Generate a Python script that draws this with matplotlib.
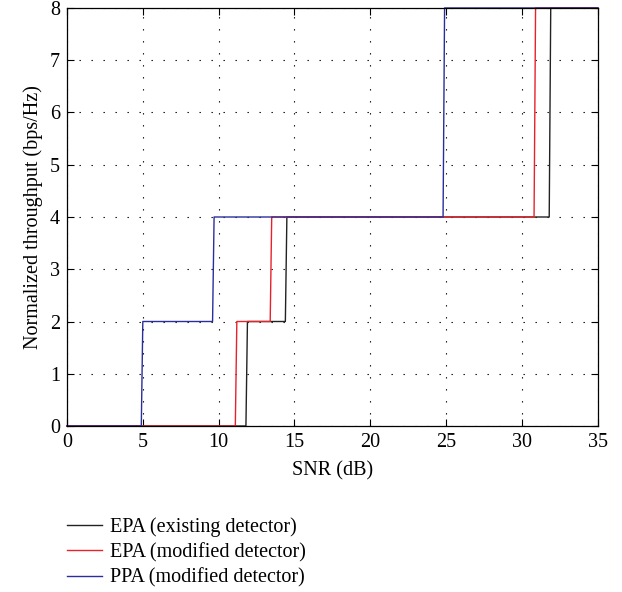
import numpy as np
import matplotlib.pyplot as plt

plt.rcParams['font.family'] = ['Liberation Serif', 'DejaVu Serif']

# corner points of each step curve (SNR in dB, throughput in bps/Hz)
snr_epa_exist = [0, 11.8, 11.9, 14.4, 14.5, 31.8, 31.9, 35]
thr_epa_exist = [0, 0, 2, 2, 4, 4, 8, 8]
snr_epa_mod = [0, 11.1, 11.2, 13.4, 13.5, 30.8, 30.9, 35]
thr_epa_mod = [0, 0, 2, 2, 4, 4, 8, 8]
snr_ppa_mod = [0, 4.9, 5.0, 9.6, 9.7, 24.8, 24.9, 35]
thr_ppa_mod = [0, 0, 2, 2, 4, 4, 8, 8]

labels = ['EPA (existing detector)', 'EPA (modified detector)', 'PPA (modified detector)']
colors = ['#222222', '#e8212b', '#2a2e9c']

fig = plt.figure(figsize=(6.22, 5.92), dpi=100)
ax = fig.add_axes([0.1077, 0.2804, 0.8533, 0.7061])

ax.plot(snr_epa_exist, thr_epa_exist, color=colors[0], lw=1.0, label=labels[0], clip_on=False)
ax.plot(snr_epa_mod, thr_epa_mod, color=colors[1], lw=1.0, label=labels[1], clip_on=False)
ax.plot(snr_ppa_mod, thr_ppa_mod, color=colors[2], lw=1.0, label=labels[2], clip_on=False)

ax.set_xlim(0, 35)
ax.set_ylim(0, 8)
ax.set_xticks(np.arange(0, 36, 5))
ax.set_yticks(np.arange(0, 9, 1))
ax.grid(True, color='black', linestyle=(0, (1.2, 9.6)), lw=0.8)
ax.tick_params(direction='in', top=True, right=True, length=5, labelsize=14.5, pad=5)
for s in ax.spines.values():
    s.set_linewidth(0.9)

ax.set_xlabel('SNR (dB)', fontsize=14.5, labelpad=7)
ax.set_ylabel('Normalized throughput (bps/Hz)', fontsize=14.5, labelpad=5)

fig.legend(loc='upper left', bbox_to_anchor=(0.094, 0.14), frameon=False,
           fontsize=14.5, handlelength=1.75, handletextpad=0.4, labelspacing=0.3,
           borderaxespad=0)

fig.savefig('out.png', dpi=100)
